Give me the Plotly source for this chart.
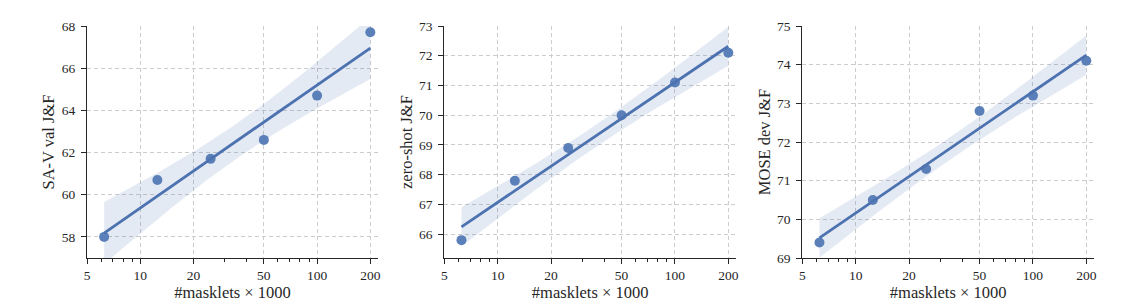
import numpy as np
import plotly.graph_objects as go

# ---- data ----
masklets = [6.25, 12.5, 25, 50, 100, 200]
sav_val = [58.0, 60.7, 61.7, 62.6, 64.7, 67.7]
zero_shot = [65.8, 67.8, 68.9, 70.0, 71.1, 72.1]
mose_dev = [69.4, 70.5, 71.3, 72.8, 73.2, 74.1]

y_titles = ["SA-V val J&F", "zero-shot J&F", "MOSE dev J&F"]
x_title = "#masklets × 1000"
x_tickvals = [5, 10, 20, 50, 100, 200]
x_minor = [6, 7, 8, 9, 30, 40, 60, 70, 80, 90]
y_ranges = [[57.0, 68.0], [65.2, 73.0], [69.0, 75.0]]
y_dticks = [2, 1, 1]

series = [sav_val, zero_shot, mose_dev]

W, H = 1143, 303
ml, mr, mt, mb = 87, 49, 26, 45
pw = W - ml - mr
panel_px = [(87, 378), (444.3, 736), (802.3, 1094)]
domains = [[(a - ml) / pw, min(1.0, (b - ml) / pw)] for a, b in panel_px]

BLUE = "#4C72B0"
PT = "#5B80B9"
BAND = "rgba(76,114,176,0.15)"
FONT = "Liberation Serif"
TXT = "#262626"
TICK_FS = 13.5
TITLE_FS = 16.5

fig = go.Figure()

T975_4 = 2.776
for i, ys in enumerate(series):
    xa = "x" if i == 0 else f"x{i+1}"
    ya = "y" if i == 0 else f"y{i+1}"
    lx = np.log10(np.array(masklets, dtype=float))
    yv = np.array(ys, dtype=float)
    slope, icpt = np.polyfit(lx, yv, 1)
    resid = yv - (slope * lx + icpt)
    n = len(lx)
    s = np.sqrt(np.sum(resid ** 2) / (n - 2))
    sxx = np.sum((lx - lx.mean()) ** 2)
    gx = np.linspace(lx.min(), lx.max(), 100)
    gy = slope * gx + icpt
    se = s * np.sqrt(1.0 / n + (gx - lx.mean()) ** 2 / sxx)
    lo, hi = gy - T975_4 * se, gy + T975_4 * se
    xs = 10 ** gx
    fig.add_trace(go.Scatter(
        x=np.concatenate([xs, xs[::-1]]), y=np.concatenate([hi, lo[::-1]]),
        fill="toself", fillcolor=BAND, line=dict(width=0), mode="lines",
        hoverinfo="skip", showlegend=False, xaxis=xa, yaxis=ya))
    fig.add_trace(go.Scatter(
        x=masklets, y=ys, mode="markers",
        marker=dict(size=10, color=PT, line=dict(width=0)),
        showlegend=False, xaxis=xa, yaxis=ya))
    fig.add_trace(go.Scatter(
        x=xs, y=gy, mode="lines", line=dict(color=BLUE, width=2.8),
        showlegend=False, xaxis=xa, yaxis=ya))

layout = dict(
    width=W, height=H,
    margin=dict(l=ml, r=mr, t=mt, b=mb, pad=0),
    plot_bgcolor="white", paper_bgcolor="white",
    font=dict(family=FONT, color=TXT, size=TICK_FS),
)
for i in range(3):
    xk = "xaxis" if i == 0 else f"xaxis{i+1}"
    yk = "yaxis" if i == 0 else f"yaxis{i+1}"
    xa = "x" if i == 0 else f"x{i+1}"
    ya = "y" if i == 0 else f"y{i+1}"
    layout[xk] = dict(
        type="log", domain=domains[i], anchor=ya,
        range=[np.log10(5), np.log10(221)],
        tickmode="array", tickvals=x_tickvals, ticktext=[str(v) for v in x_tickvals],
        ticks="outside", ticklen=5, tickwidth=1.2, tickcolor=TXT,
        showline=True, linecolor=TXT, linewidth=1.3,
        showgrid=True, gridcolor="#CCCCCC", gridwidth=1, griddash="4px,3px",
        zeroline=False, automargin=False,
        tickfont=dict(size=TICK_FS, family=FONT, color=TXT),
        title=dict(text=x_title, font=dict(size=TITLE_FS, family=FONT, color=TXT), standoff=3),
        minor=dict(tickmode="array", tickvals=x_minor, ticks="outside", ticklen=3,
                   tickwidth=1, tickcolor=TXT, showgrid=False),
    )
    layout[yk] = dict(
        domain=[0, 1], anchor=xa, range=y_ranges[i],
        dtick=y_dticks[i], tick0=0,
        ticks="outside", ticklen=5, tickwidth=1.2, tickcolor=TXT,
        ticklabelstandoff=3,
        showline=True, linecolor=TXT, linewidth=1.3,
        showgrid=True, gridcolor="#CCCCCC", gridwidth=1, griddash="4px,3px",
        zeroline=False, automargin=False,
        tickfont=dict(size=TICK_FS, family=FONT, color=TXT),
        title=dict(text=y_titles[i], font=dict(size=TITLE_FS, family=FONT, color=TXT), standoff=2),
    )
fig.update_layout(**layout)
fig.write_html("out.html")
